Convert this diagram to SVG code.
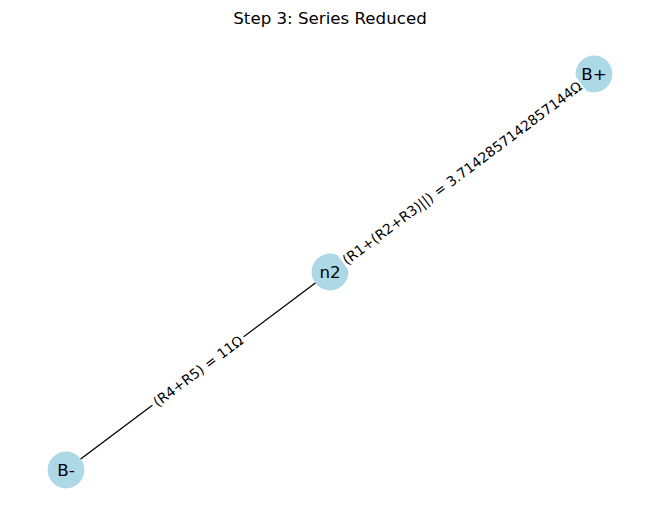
<svg xmlns="http://www.w3.org/2000/svg" width="660" height="522" viewBox="0 0 660 522">
<style>
text{font-family:"DejaVu Sans","Liberation Sans",sans-serif;fill:#000}
.node circle{fill:#add8e6;stroke:none}
.node text{font-size:16.67px;text-anchor:middle;dominant-baseline:central}
.edge{stroke:#000;stroke-width:1.39;fill:none}
.elabel rect{fill:#fff;stroke:none}
.elabel text{font-size:13.89px;text-anchor:middle;dominant-baseline:central}
.title{font-size:16.67px;text-anchor:middle}
</style>
<rect width="660" height="522" fill="#fff"/>
<text class="title" x="330" y="24">Step 3: Series Reduced</text>
<g id="connectors">
<line class="edge" x1="330" y1="272" x2="594" y2="74"/>
<line class="edge" x1="330" y1="272" x2="66" y2="470"/>
</g>
<g id="node-Bplus" class="node"><circle cx="594" cy="74" r="18.4"/><text x="594" y="74">B+</text></g>
<g id="node-n2" class="node"><circle cx="330" cy="272" r="18.4"/><text x="330" y="272">n2</text></g>
<g id="node-Bminus" class="node"><circle cx="66" cy="470" r="18.4"/><text x="66" y="470">B-</text></g>
<g id="edge-labels">
<g class="elabel" transform="rotate(-36.87 462 173)"><rect x="313" y="162" width="298" height="22" rx="4"/><text x="462" y="173">(R1+(R2+R3)||) = 3.7142857142857144Ω</text></g>
<g class="elabel" transform="rotate(-36.87 198 371)"><rect x="141" y="360" width="114" height="22" rx="4"/><text x="198" y="371">(R4+R5) = 11Ω</text></g>
</g>
</svg>
